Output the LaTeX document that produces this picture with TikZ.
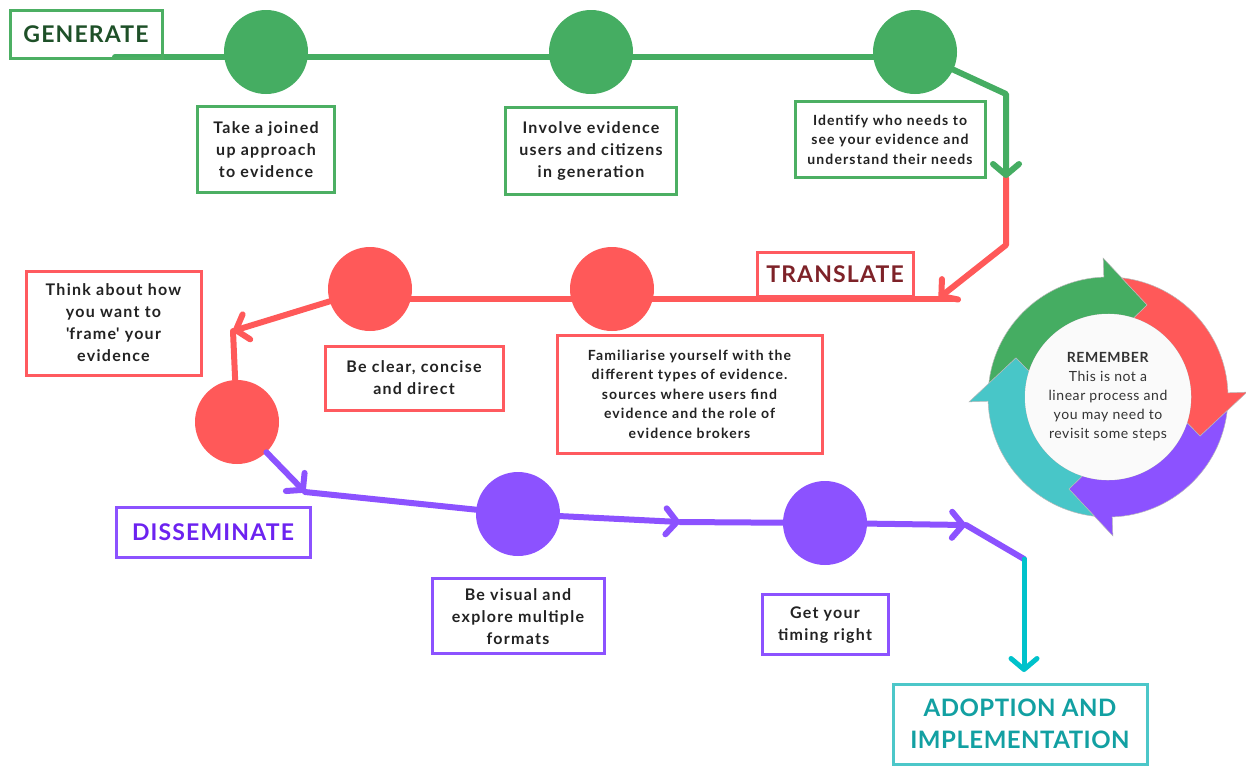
\documentclass[tikz,border=0pt]{standalone}
\usepackage{fontspec}
\setmainfont{Lato}
\newfontfamily\tipfont[LetterSpace=8]{Lato}
\newfontfamily\phasefont[LetterSpace=5]{Lato}
\newfontfamily\adoptfont[LetterSpace=2]{Lato}
\newfontfamily\notefont[LetterSpace=4]{Lato}
\usepackage{tikz}
\usetikzlibrary{
  arrows.meta,
  calc,
  positioning,
  backgrounds
}
\definecolor{pathgreen}{RGB}{69,173,98}
\definecolor{pathred}{RGB}{255,89,89}
\definecolor{pathpurple}{RGB}{140,82,255}
\definecolor{pathteal}{RGB}{0,194,203}
\definecolor{ringteal}{RGB}{72,198,200}
\definecolor{boxgreen}{RGB}{76,175,99}
\definecolor{boxred}{RGB}{255,90,95}
\definecolor{boxteal}{RGB}{76,199,201}
\definecolor{boxtext}{RGB}{34,34,34}
\definecolor{gentext}{RGB}{30,80,40}
\definecolor{transtext}{RGB}{126,34,40}
\definecolor{disstext}{RGB}{108,34,240}
\definecolor{adopttext}{RGB}{18,160,162}

\begin{document}
\begin{tikzpicture}[
  x=1pt, y=-1pt,
  stepdot/.style={circle, minimum size=84pt, inner sep=0pt},
  tipbox/.style={draw, line width=3pt, align=center, inner sep=0pt,
               font=\tipfont\fontsize{16}{22}\selectfont\bfseries, text=boxtext},
  smallbox/.style={tipbox, font=\tipfont\fontsize{14}{19.5}\selectfont\bfseries},
  phase/.style={draw, line width=3pt, align=center, inner sep=0pt,
               font=\phasefont\fontsize{23}{32}\selectfont\bfseries},
  flow/.style={line width=6pt, line cap=round, line join=round},
  arr/.style={flow, -{Straight Barb[length=11pt, width=26pt, round]}}
]
  \useasboundingbox (0,0) rectangle (1246,766);

  % generate
  \node[phase, draw=boxgreen, text=gentext, minimum width=152pt, minimum height=48pt] (gen) at (86,34) {GENERATE};
  \node[stepdot, fill=pathgreen] (g1) at (266,52) {};
  \node[stepdot, fill=pathgreen] (g2) at (591,52) {};
  \node[stepdot, fill=pathgreen] (g3) at (915,52) {};
  \node[tipbox, draw=boxgreen, minimum width=137pt, minimum height=86pt, below=11pt of g1] (gb1) {Take a joined\\up approach\\to evidence};
  \node[tipbox, draw=boxgreen, minimum width=171pt, minimum height=87pt, below=12pt of g2] (gb2) {Involve evidence\\users and citizens\\in generation};
  \node[smallbox, draw=boxgreen, minimum width=190pt, minimum height=76pt] (gb3) at (890,139.5) {Identify who needs to\\see your evidence and\\understand their needs};

  % translate
  \node[phase, draw=boxred, text=transtext, minimum width=156pt, minimum height=44pt] (trans) at (835,274) {TRANSLATE};
  \node[stepdot, fill=pathred] (r1) at (370,289) {};
  \node[stepdot, fill=pathred] (r2) at (612,289) {};
  \node[stepdot, fill=pathred] (r3) at (237,422) {};
  \node[tipbox, draw=boxred, minimum width=175pt, minimum height=104pt] (rb1) at (113.5,323) {Think about how\\you want to\\\textquotesingle frame\textquotesingle{} your\\evidence};
  \node[tipbox, draw=boxred, minimum width=178pt, minimum height=64pt] (rb2) at (414,378) {Be clear, concise\\and direct};
  \node[smallbox, draw=boxred, minimum width=265pt, minimum height=118pt] (rb3) at (689.5,394) {Familiarise yourself with the\\different types of evidence.\\sources where users find\\evidence and the role of\\evidence brokers};

  % disseminate
  \node[phase, draw=pathpurple, text=disstext, minimum width=194pt, minimum height=50pt] (diss) at (213,532) {DISSEMINATE};
  \node[stepdot, fill=pathpurple] (p1) at (518,514) {};
  \node[stepdot, fill=pathpurple] (p2) at (825,523) {};
  \node[tipbox, draw=pathpurple, minimum width=172pt, minimum height=75pt, below=21pt of p1] (pb1) {Be visual and\\explore multiple\\formats};
  \node[tipbox, draw=pathpurple, minimum width=126pt, minimum height=60pt, below=28pt of p2] (pb2) {Get your\\timing right};

  % adoption
  \node[phase, draw=boxteal, text=adopttext, font=\adoptfont\fontsize{24}{32}\selectfont\bfseries, minimum width=254pt, minimum height=80pt] (adopt) at (1020,724) {ADOPTION AND\\IMPLEMENTATION};

  \coordinate (gstart) at (115,57);
  \coordinate (gbend) at (1006,94);
  \coordinate (gdown) at (1006,178);
  \coordinate (rbend) at (1006,245);
  \coordinate (rturn) at (939,298);
  \coordinate (rend) at (953,299);
  \coordinate (rcorner) at (233,331);
  \coordinate (pturn) at (305,492);
  \coordinate (pmid) at (680,522);
  \coordinate (pright) at (966,525);
  \coordinate (pbend) at (1024,559);
  \coordinate (tdown) at (1024,672);

  \begin{scope}[on background layer]
    \fill[white] (0,0) rectangle (1246,766);
    \draw[flow, pathgreen] (gstart) -- (g3 |- gstart);
    \draw[flow, pathred] (rend) -- (r1 |- rend);
  \end{scope}

  \draw[arr, pathred] (gdown) -- (rbend) -- (rturn);
  \draw[arr, pathgreen] (g3) -- (gbend) -- (gdown);
  \draw[arr, pathred] (r1) -- (rcorner);
  \draw[flow, pathred] (rcorner) -- (r3);
  \draw[arr, pathpurple] (r3) -- (pturn);
  \draw[flow, pathpurple] (pturn) -- (p1);
  \draw[arr, pathpurple] (p1) -- (pmid);
  \draw[flow, pathpurple] (pmid) -- (p2);
  \draw[arr, pathpurple] (p2) -- (pright);
  \draw[flow, pathpurple] (pright) -- (pbend);
  \draw[arr, pathteal, line width=5pt] (pbend) -- (tdown);

  % remember ring
  \begin{scope}[shift={(1108,397)}, x=1pt, y=1pt]
    \foreach \col/\headat in {pathgreen/92, pathred/2, pathpurple/-88, ringteal/-178}{
      \pgfmathsetmacro\tailat{\headat+90}
      \filldraw[fill=\col, draw=gray!55, line width=0.5pt]
        (\tailat-8.5:120pt) arc[start angle=\tailat-8.5, end angle=\headat, radius=120pt]
        -- (\headat:139pt) -- (\headat-25:100pt) -- (\headat-20:83pt)
        arc[start angle=\headat-20, end angle=\tailat-20, radius=83pt]
        -- (\tailat-25:100pt) -- cycle;
    }
    \node[circle, fill=white!98!black, minimum size=166pt, inner sep=0pt, align=center,
          font=\notefont\fontsize{14}{19}\selectfont, text=black!80] (remember) at (0,0)
          {\textbf{REMEMBER}\\This is not a\\linear process and\\you may need to\\revisit some steps};
  \end{scope}
\end{tikzpicture}
\end{document}
